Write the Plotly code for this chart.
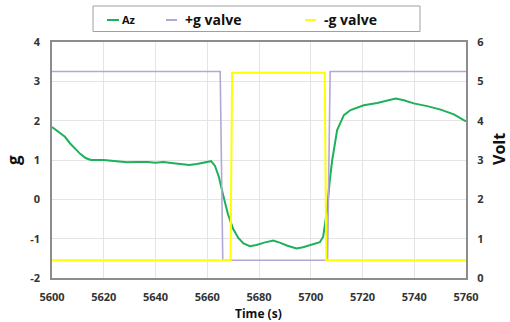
import plotly.graph_objects as go

# Az acceleration (g) vs time (s)
az_time = [5600, 5603, 5605, 5607, 5609, 5611, 5613, 5615, 5620, 5625, 5629, 5633, 5637, 5640,
           5643, 5647, 5650, 5653, 5656, 5660, 5661.5, 5663, 5664.5, 5666, 5668, 5670, 5672, 5674,
           5676.5, 5679, 5682, 5685.5, 5688, 5691, 5694.5, 5697, 5700, 5703.5, 5704.8, 5706.3,
           5707.3, 5708.3, 5710.2, 5712.8, 5715.4, 5720.5, 5725.7, 5729.5, 5732.8, 5736, 5739.8,
           5745, 5750.2, 5755.3, 5760]
az_g = [1.84, 1.70, 1.59, 1.42, 1.28, 1.15, 1.05, 1.00, 1.00, 0.97, 0.94, 0.95, 0.95, 0.93,
        0.95, 0.92, 0.90, 0.87, 0.90, 0.96, 0.97, 0.85, 0.57, 0.15, -0.38, -0.75, -0.98, -1.12,
        -1.19, -1.16, -1.10, -1.05, -1.10, -1.18, -1.25, -1.22, -1.16, -1.09, -0.95, -0.27,
        0.45, 1.00, 1.76, 2.14, 2.27, 2.39, 2.45, 2.50, 2.56, 2.52, 2.44,
        2.37, 2.28, 2.16, 1.98]

# +g valve (Volt)
pg_time = [5600, 5665, 5666, 5706.5, 5707.5, 5760]
pg_volt = [5.25, 5.25, 0.45, 0.45, 5.25, 5.25]

# -g valve (Volt)
ng_time = [5600, 5669, 5669.6, 5705.4, 5706, 5760]
ng_volt = [0.45, 0.45, 5.22, 5.22, 0.45, 0.45]

x_ticks = [5600, 5620, 5640, 5660, 5680, 5700, 5720, 5740, 5760]
g_ticks = [-2, -1, 0, 1, 2, 3, 4]
volt_ticks = [0, 1, 2, 3, 4, 5, 6]

GREEN = "#1DB15A"
PURPLE = "#B4A7D6"
YELLOW = "#FFFF00"
FONT = "Open Sans"

L, R, T, B = 52, 44, 42, 44
PW = 510 - L - R
PH = 322 - T - B


def px(xp):
    return (xp - L) / PW


def py(yp):
    return (322 - B - yp) / PH


fig = go.Figure()
fig.add_trace(go.Scatter(x=pg_time, y=pg_volt, yaxis="y2", mode="lines",
                         line=dict(color=PURPLE, width=1.6), name="+g valve", showlegend=False))
fig.add_trace(go.Scatter(x=ng_time, y=ng_volt, yaxis="y2", mode="lines",
                         line=dict(color=YELLOW, width=2), name="-g valve", showlegend=False))
fig.add_trace(go.Scatter(x=az_time, y=az_g, yaxis="y", mode="lines",
                         line=dict(color=GREEN, width=2),
                         name="Az", showlegend=False))

tickfont = dict(family=FONT, size=11, color="#333333")

fig.update_layout(
    width=510, height=322,
    margin=dict(l=L, r=R, t=T, b=B),
    paper_bgcolor="white", plot_bgcolor="white",
    font=dict(family=FONT, color="#222222"),
    xaxis=dict(range=[5600, 5760], tickvals=x_ticks, ticktext=[f"<b>{v}</b>" for v in x_ticks],
               tickfont=tickfont, showgrid=True, gridcolor="#E4E4E4", gridwidth=1,
               showline=True, linecolor="#8C8C8C", linewidth=1.5, mirror=True, zeroline=False,
               ticks="outside", ticklen=8, tickcolor="rgba(0,0,0,0)", automargin=False),
    yaxis=dict(range=[-2, 4], tickvals=g_ticks, ticktext=[f"<b>{v}</b>" for v in g_ticks],
               tickfont=tickfont, showgrid=True, gridcolor="#E4E4E4",
               showline=True, linecolor="#8C8C8C", linewidth=1.5, mirror=True, zeroline=False,
               ticks="outside", ticklen=8, tickcolor="rgba(0,0,0,0)", automargin=False),
    yaxis2=dict(range=[0, 6], tickvals=volt_ticks, ticktext=[f"<b>{v}</b>" for v in volt_ticks],
                overlaying="y", side="right", tickfont=tickfont,
                showgrid=False, zeroline=False, ticks="outside", ticklen=8,
                tickcolor="rgba(0,0,0,0)", automargin=False),
)

# Axis titles
fig.add_annotation(xref="paper", yref="paper", x=px(258), y=py(313), showarrow=False,
                   text="<b>Time (s)</b>", font=dict(family=FONT, size=12, color="#111"),
                   xanchor="center", yanchor="middle")
fig.add_annotation(xref="paper", yref="paper", x=px(13), y=py(160), showarrow=False,
                   text="<b>g</b>", textangle=-90, font=dict(family=FONT, size=17, color="#111"),
                   xanchor="center", yanchor="middle")
fig.add_annotation(xref="paper", yref="paper", x=px(499), y=py(149), showarrow=False,
                   text="<b>Volt</b>", textangle=-90, font=dict(family=FONT, size=16, color="#111"),
                   xanchor="center", yanchor="middle")

# Legend box drawn manually
fig.add_shape(type="rect", xref="paper", yref="paper", x0=px(93), x1=px(420),
              y0=py(31.5), y1=py(6), line=dict(color="#A0A0A0", width=1), fillcolor="white")
leg_items = [
    (107, 119, GREEN, "<b>Az</b>", 11),
    (166, 177, PURPLE, "<b>+g valve</b>", 14),
    (305, 316, YELLOW, "<b>-g valve</b>", 14),
]
for x0, x1, col, label, fs in leg_items:
    fig.add_shape(type="line", xref="paper", yref="paper", x0=px(x0), x1=px(x1),
                  y0=py(20), y1=py(20), line=dict(color=col, width=2))
    fig.add_annotation(xref="paper", yref="paper", x=px(x1 + (1 if fs == 11 else 6)), y=py(19),
                       xanchor="left", yanchor="middle", showarrow=False,
                       text=label, font=dict(family=FONT, size=fs, color="#111"))

fig.write_html("out.html", config={"displayModeBar": False},
               post_script="document.body.style.margin='0';")
